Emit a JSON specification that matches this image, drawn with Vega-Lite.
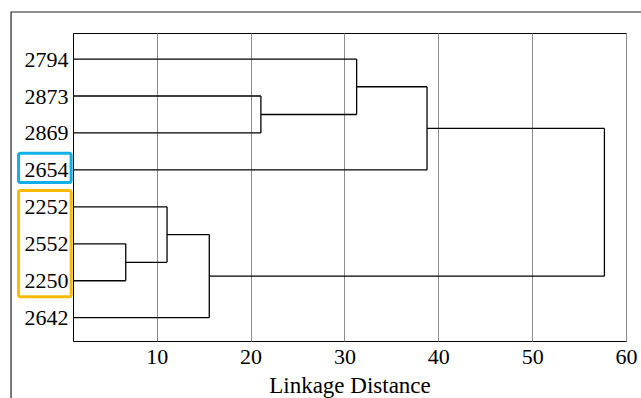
{
  "$schema": "https://vega.github.io/schema/vega-lite/v6.json",
  "autosize": {"type": "none"},
  "padding": {"left": 73, "top": 33, "right": 15, "bottom": 57},
  "width": 553,
  "height": 308,
  "background": "white",
  "config": {
    "view": {"stroke": "#000", "strokeWidth": 1},
    "font": "Liberation Serif"
  },
  "datasets": {
    "segments": [
      {"x": 0, "x2": 31.3, "y": 1, "y2": 1},
      {"x": 0, "x2": 21.1, "y": 2, "y2": 2},
      {"x": 0, "x2": 21.1, "y": 3, "y2": 3},
      {"x": 0, "x2": 38.8, "y": 4, "y2": 4},
      {"x": 0, "x2": 11.1, "y": 5, "y2": 5},
      {"x": 0, "x2": 6.7, "y": 6, "y2": 6},
      {"x": 0, "x2": 6.7, "y": 7, "y2": 7},
      {"x": 0, "x2": 15.6, "y": 8, "y2": 8},
      {"x": 21.1, "x2": 31.3, "y": 2.5, "y2": 2.5},
      {"x": 31.3, "x2": 38.8, "y": 1.75, "y2": 1.75},
      {"x": 38.8, "x2": 57.7, "y": 2.875, "y2": 2.875},
      {"x": 6.7, "x2": 11.1, "y": 6.5, "y2": 6.5},
      {"x": 11.1, "x2": 15.6, "y": 5.75, "y2": 5.75},
      {"x": 15.6, "x2": 57.7, "y": 6.875, "y2": 6.875},
      {"x": 21.1, "x2": 21.1, "y": 2, "y2": 3},
      {"x": 31.3, "x2": 31.3, "y": 1, "y2": 2.5},
      {"x": 38.8, "x2": 38.8, "y": 1.75, "y2": 4},
      {"x": 6.7, "x2": 6.7, "y": 6, "y2": 7},
      {"x": 11.1, "x2": 11.1, "y": 5, "y2": 6.5},
      {"x": 15.6, "x2": 15.6, "y": 5.75, "y2": 8},
      {"x": 57.7, "x2": 57.7, "y": 2.875, "y2": 6.875}
    ],
    "boxes": [
      {"group": "2654", "x": -4.72, "x2": 0.88, "y": 3.55, "y2": 4.34},
      {"group": "2252-2250", "x": -4.72, "x2": 0.88, "y": 4.56, "y2": 7.43}
    ]
  },
  "layer": [
    {
      "data": {"name": "segments"},
      "mark": {"type": "rule", "color": "#000", "strokeWidth": 1.3, "clip": true},
      "encoding": {
        "x": {
          "field": "x",
          "type": "quantitative",
          "scale": {"domain": [1.08, 60], "nice": false, "zero": false},
          "axis": {
            "values": [10, 20, 30, 40, 50, 60],
            "grid": true,
            "gridColor": "#8c8c8c",
            "gridWidth": 1,
            "ticks": false,
            "domain": false,
            "labelFont": "Liberation Serif",
            "labelFontSize": 22,
            "labelColor": "#000",
            "labelPadding": 5,
            "labelFlush": false,
            "labelOverlap": false,
            "title": "Linkage Distance",
            "titleFont": "Liberation Serif",
            "titleFontSize": 23,
            "titleFontWeight": "normal",
            "titleColor": "#000",
            "titlePadding": 7
          }
        },
        "x2": {"field": "x2"},
        "y": {
          "field": "y",
          "type": "quantitative",
          "scale": {"domain": [0.295, 8.63], "nice": false, "zero": false, "reverse": true},
          "axis": {
            "values": [1, 2, 3, 4, 5, 6, 7, 8],
            "labelExpr": "['', '2794', '2873', '2869', '2654', '2252', '2552', '2250', '2642'][datum.value]",
            "grid": false,
            "ticks": false,
            "domain": false,
            "labelFont": "Liberation Serif",
            "labelFontSize": 22,
            "labelColor": "#000",
            "labelPadding": 5,
            "labelOverlap": false,
            "labelFlush": false,
            "title": null
          }
        },
        "y2": {"field": "y2"}
      }
    },
    {
      "data": {"name": "boxes"},
      "mark": {"type": "rect", "filled": false, "strokeWidth": 3, "cornerRadius": 2, "clip": false},
      "encoding": {
        "x": {"field": "x", "type": "quantitative"},
        "x2": {"field": "x2"},
        "y": {"field": "y", "type": "quantitative"},
        "y2": {"field": "y2"},
        "stroke": {
          "field": "group",
          "type": "nominal",
          "scale": {"domain": ["2654", "2252-2250"], "range": ["#12AEEB", "#FFBA00"]},
          "legend": null
        }
      }
    },
    {
      "data": {"values": [{}]},
      "mark": {"type": "rect", "filled": false, "stroke": "#222", "strokeWidth": 1.2, "clip": false},
      "encoding": {
        "x": {"datum": -5.52, "type": "quantitative"},
        "x2": {"datum": 80},
        "y": {"datum": -0.273, "type": "quantitative"},
        "y2": {"datum": 12}
      }
    }
  ]
}
